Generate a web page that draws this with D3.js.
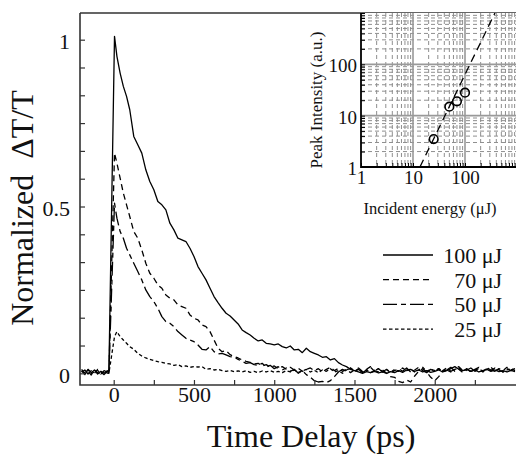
<!DOCTYPE html>
<html>
<head>
<meta charset="utf-8">
<script src="https://cdn.jsdelivr.net/npm/d3@7"></script>
<style>
  html, body { margin: 0; padding: 0; background: #fff; }
  svg { display: block; }
  svg text { font-family: "Liberation Serif", "DejaVu Serif", serif !important; }
  .ttl { white-space: pre; }
</style>
</head>
<body>
<div id="chart"></div>
<script>
// time delay grid (ps)
var delay = [-200,-180,-160,-140,-120,-100,-80,-60,-40,-30,
  5,20,40,60,80,100,
  125,150,175,200,225,250,275,300,325,350,375,400,425,450,475,500,525,550,575,600,
  625,650,675,700,725,750,775,800,825,850,875,900,925,950,975,1000,
  1025,1050,1075,1100,1125,1150,1175,1200,1225,1250,1275,1300,1325,1350,1375,1400,1425,1450,1475,1500,
  1525,1550,1575,1600,1625,1650,1675,1700,1725,1750,1775,1800,1825,1850,1875,1900,1925,1950,1975,2000,
  2025,2050,2075,2100,2125,2150,2175,2200,2225,2250,2275,2300,2325,2350,2375,2400,2425,2450,2475,2500];

// normalized dT/T per pump energy
var dt100 = [0.008,-0.004,0.012,0.002,0.010,-0.002,0.006,0.000,0.008,0.004,
  1.01,0.95,0.90,0.86,0.83,0.79,
  0.71,0.685,0.66,0.61,0.575,0.55,0.515,0.505,0.49,0.45,0.43,0.405,0.40,0.395,0.375,0.35,0.32,0.30,0.28,0.255,
  0.23,0.212,0.195,0.18,0.172,0.16,0.148,0.13,0.122,0.115,0.105,0.097,0.10,0.09,0.088,0.085,
  0.088,0.080,0.076,0.082,0.070,0.072,0.062,0.075,0.065,0.060,0.055,0.048,0.050,0.040,0.044,0.032,0.025,0.020,0.012,0.008,
  0.004,0.000,0.005,0.002,0.006,0.001,0.004,0.000,0.005,0.002,0.008,0.003,0.010,0.012,0.006,0.010,0.004,0.008,0.003,0.006,
  0.010,0.004,0.008,0.014,0.020,0.012,0.008,0.012,0.006,0.010,0.004,0.008,0.012,0.006,0.010,0.005,0.008,0.004,0.009,0.005];

var dt70 = [0.012,0.000,0.006,-0.005,0.010,0.002,-0.003,0.008,0.004,0.000,
  0.66,0.63,0.585,0.54,0.505,0.47,
  0.425,0.405,0.37,0.33,0.30,0.285,0.265,0.255,0.235,0.225,0.22,0.205,0.20,0.195,0.175,0.165,0.16,0.145,0.14,0.125,
  0.10,0.075,0.065,0.068,0.056,0.05,0.046,0.04,0.036,0.033,0.028,0.03,0.022,0.026,0.018,0.022,
  0.014,0.02,0.012,0.018,0.01,0.015,0.006,0.012,0.016,0.008,0.014,0.004,0.012,0.018,0.008,0.015,0.006,0.012,0.002,0.010,
  0.016,0.006,0.012,0.020,0.008,0.004,0.010,0.000,-0.010,-0.012,-0.024,-0.028,-0.02,-0.026,-0.008,0.006,0.014,0.004,-0.012,-0.022,
  -0.01,0.008,0.016,0.006,0.012,0.02,0.008,0.014,0.004,0.012,0.018,0.006,0.014,0.008,0.016,0.01,0.004,0.014,0.008,0.012];

var dt50 = [0.004,0.010,-0.002,0.008,0.000,0.012,0.004,-0.004,0.006,0.002,
  0.51,0.465,0.425,0.405,0.375,0.355,
  0.33,0.305,0.28,0.25,0.23,0.215,0.195,0.17,0.155,0.15,0.14,0.125,0.115,0.105,0.10,0.095,0.085,0.072,0.07,0.08,
  0.065,0.058,0.06,0.055,0.05,0.048,0.042,0.036,0.03,0.032,0.026,0.024,0.03,0.018,0.024,0.014,
  0.02,0.01,0.016,0.006,0.012,0.0,0.008,-0.004,-0.012,-0.022,-0.026,-0.024,-0.028,-0.022,-0.01,0.004,0.012,0.006,0.016,0.008,
  0.012,0.002,0.01,0.018,0.006,0.014,0.004,0.012,0.002,0.008,0.014,0.006,0.016,0.004,0.01,0.018,0.008,0.002,0.012,0.006,
  0.014,0.004,0.01,0.018,0.006,0.012,0.002,0.01,0.016,0.006,0.012,0.004,0.016,0.01,0.006,0.014,0.008,0.018,0.01,0.014];

var dt25 = [0.006,0.002,0.010,0.000,0.004,0.009,-0.002,0.005,0.001,0.000,
  0.11,0.125,0.11,0.10,0.09,0.08,
  0.072,0.06,0.052,0.046,0.042,0.038,0.035,0.033,0.03,0.028,0.024,0.026,0.02,0.022,0.018,0.02,0.019,0.02,0.012,0.014,
  0.01,0.012,0.008,0.006,0.009,0.005,0.007,0.004,0.008,0.003,0.006,0.002,0.007,0.004,0.008,0.003,
  0.006,0.002,0.008,0.004,0.010,0.003,0.007,0.012,0.004,0.009,0.002,0.010,0.006,0.014,0.004,0.008,0.000,0.010,0.016,0.006,
  0.012,0.004,0.010,0.002,0.008,0.014,0.006,0.010,0.003,0.012,0.006,0.016,0.008,0.012,0.004,0.010,0.018,0.006,0.012,0.008,
  0.014,0.006,0.010,0.004,0.012,0.016,0.008,0.012,0.006,0.010,0.014,0.006,0.012,0.018,0.008,0.012,0.004,0.010,0.014,0.008];

var seriesLabels = ["100 \u03bcJ", "70 \u03bcJ", "50 \u03bcJ", "25 \u03bcJ"];
var seriesDash = [null, "6,4", "14,4,5,4", "3.5,2.5"];
var seriesValues = [dt100, dt70, dt50, dt25];

// inset: peak intensity vs incident energy
var energy = [25, 50, 70, 100];
var peak = [3.5, 15, 19, 28];
var fitEnergy = [13.6, 377];
var fitPeak = [1, 1000];

var xTicks = [0,250,500,750,1000,1250,1500,1750,2000,2250];
var xLabels = [0,500,1000,1500,2000];
var yTicks = [0,1/12,2/12,3/12,4/12,5/12,6/12,7/12,8/12,9/12,10/12,11/12,1];
var yLabels = [0,0.5,1];

var W = 516, H = 460;
var svg = d3.select("#chart").append("svg").attr("width", W).attr("height", H);

var x = d3.scaleLinear().domain([-210, 2500]).range([80, 515]);
var y = d3.scaleLinear().domain([-0.035, 1.08]).range([385, 13]);

svg.append("clipPath").attr("id", "clip")
  .append("rect").attr("x", 80).attr("y", 13).attr("width", 436).attr("height", 372);

// ---- main curves
var line = d3.line()
  .x(function(d) { return x(d[0]); })
  .y(function(d) { return y(d[1]); });

var curves = svg.append("g").attr("clip-path", "url(#clip)");
seriesValues.forEach(function(vals, i) {
  var pts = delay.map(function(t, k) { return [t, vals[k]]; });
  curves.append("path")
    .attr("d", line(pts))
    .attr("fill", "none")
    .attr("stroke", "#000")
    .attr("stroke-width", 1.3)
    .attr("stroke-linejoin", "round")
    .attr("stroke-dasharray", seriesDash[i]);
});

// ---- main axes (inward ticks)
var xAxis = svg.append("g").attr("transform", "translate(0,385)")
  .call(d3.axisBottom(x).tickValues(xTicks).tickSize(-5).tickPadding(1)
    .tickFormat(function(d) { return xLabels.indexOf(d) >= 0 ? d : ""; }));
var yAxis = svg.append("g").attr("transform", "translate(80,0)")
  .call(d3.axisLeft(y).tickValues(yTicks).tickSize(-5).tickPadding(10)
    .tickFormat(function(d) { return yLabels.indexOf(d) >= 0 ? d : ""; }));
[xAxis, yAxis].forEach(function(a) {
  a.attr("font-family", null);
  a.select(".domain").remove();
  a.selectAll("line").attr("stroke", "#333").attr("stroke-width", 1.2);
  a.selectAll("text").attr("font-size", 22).attr("fill", "#111");
});
yAxis.selectAll("text").attr("dy", "0.42em");

// frame
svg.append("path")
  .attr("d", "M80,13H516M80,13V385H516")
  .attr("fill", "none").attr("stroke", "#333").attr("stroke-width", 1.6);

svg.append("text").attr("class", "ttl")
  .attr("x", 311).attr("y", 447)
  .attr("text-anchor", "middle").attr("font-size", 32).attr("fill", "#111")
  .text("Time Delay (ps)");
svg.append("text").attr("class", "ttl")
  .attr("transform", "translate(33,208) rotate(-90)")
  .attr("text-anchor", "middle").attr("font-size", 32).attr("fill", "#111")
  .text("Normalized  \u0394T/T");

// ---- legend
var leg = svg.append("g");
seriesLabels.forEach(function(lab, i) {
  var ly = 255 + i * 24.7;
  leg.append("line")
    .attr("x1", 383).attr("x2", 433).attr("y1", ly).attr("y2", ly)
    .attr("stroke", "#000").attr("stroke-width", 1.3)
    .attr("stroke-dasharray", seriesDash[i]);
  leg.append("text")
    .attr("x", 502).attr("y", ly + 8)
    .attr("text-anchor", "end").attr("font-size", 22).attr("fill", "#111")
    .text(lab);
});

// ---- inset
var ix = d3.scaleLog().domain([1, 1000]).range([361, 517]);
var iy = d3.scaleLog().domain([1, 1000]).range([167, 13]);
var inset = svg.append("g");
inset.append("rect").attr("x", 361).attr("y", 13).attr("width", 155).attr("height", 154).attr("fill", "#fff");

var minor = [];
[1, 10, 100].forEach(function(dec) {
  for (var k = 2; k <= 9; k++) minor.push(k * dec);
});
var major = [10, 100];

inset.selectAll("line.hmin").data(minor).enter().append("line")
  .attr("x1", 361).attr("x2", 516).attr("y1", iy).attr("y2", iy)
  .attr("stroke", "#8f8f8f").attr("stroke-width", 1).attr("stroke-dasharray", "4,3");
inset.selectAll("line.vmin").data(minor).enter().append("line")
  .attr("x1", ix).attr("x2", ix).attr("y1", 13).attr("y2", 167)
  .attr("stroke", "#8f8f8f").attr("stroke-width", 1).attr("stroke-dasharray", "4,3");
inset.selectAll("line.hmaj").data(major).enter().append("line")
  .attr("x1", 361).attr("x2", 516).attr("y1", iy).attr("y2", iy)
  .attr("stroke", "#999").attr("stroke-width", 1.6);
inset.selectAll("line.vmaj").data(major).enter().append("line")
  .attr("x1", ix).attr("x2", ix).attr("y1", 13).attr("y2", 167)
  .attr("stroke", "#999").attr("stroke-width", 1.6);

svg.append("clipPath").attr("id", "iclip")
  .append("rect").attr("x", 361).attr("y", 13).attr("width", 155).attr("height", 154);

inset.append("line")
  .attr("clip-path", "url(#iclip)")
  .attr("x1", ix(fitEnergy[0])).attr("y1", iy(fitPeak[0]))
  .attr("x2", ix(fitEnergy[1])).attr("y2", iy(fitPeak[1]))
  .attr("stroke", "#000").attr("stroke-width", 1.3).attr("stroke-dasharray", "8,5");

inset.selectAll("circle").data(energy).enter().append("circle")
  .attr("cx", function(d) { return ix(d); })
  .attr("cy", function(d, i) { return iy(peak[i]); })
  .attr("r", 4.3)
  .attr("fill", "none").attr("stroke", "#000").attr("stroke-width", 1.6);

var iTicks = minor.concat([1, 10, 100, 1000]);
var ixAxis = inset.append("g").attr("transform", "translate(0,167)")
  .call(d3.axisBottom(ix).tickValues(iTicks).tickSize(-4).tickPadding(4)
    .tickFormat(function(d) { return [1, 10, 100].indexOf(d) >= 0 ? d : ""; }));
var iyAxis = inset.append("g").attr("transform", "translate(361,0)")
  .call(d3.axisLeft(iy).tickValues(iTicks).tickSize(-4).tickPadding(4)
    .tickFormat(function(d) { return [1, 10, 100].indexOf(d) >= 0 ? d : ""; }));
[ixAxis, iyAxis].forEach(function(a) {
  a.attr("font-family", null);
  a.select(".domain").remove();
  a.selectAll("line").attr("stroke", "#000").attr("stroke-width", 1);
  a.selectAll("text").attr("font-size", 19).attr("fill", "#111");
});
iyAxis.selectAll("text").attr("dy", "0.4em");
inset.append("path")
  .attr("d", "M361,13V167H516")
  .attr("fill", "none").attr("stroke", "#000").attr("stroke-width", 1.8);

inset.append("text")
  .attr("x", 430).attr("y", 214)
  .attr("text-anchor", "middle").attr("font-size", 16.5).attr("fill", "#111")
  .text("Incident energy (\u03bcJ)");
inset.append("text")
  .attr("transform", "translate(322,100) rotate(-90)")
  .attr("text-anchor", "middle").attr("font-size", 17).attr("fill", "#111")
  .text("Peak Intensity (a.u.)");
</script>
</body>
</html>
